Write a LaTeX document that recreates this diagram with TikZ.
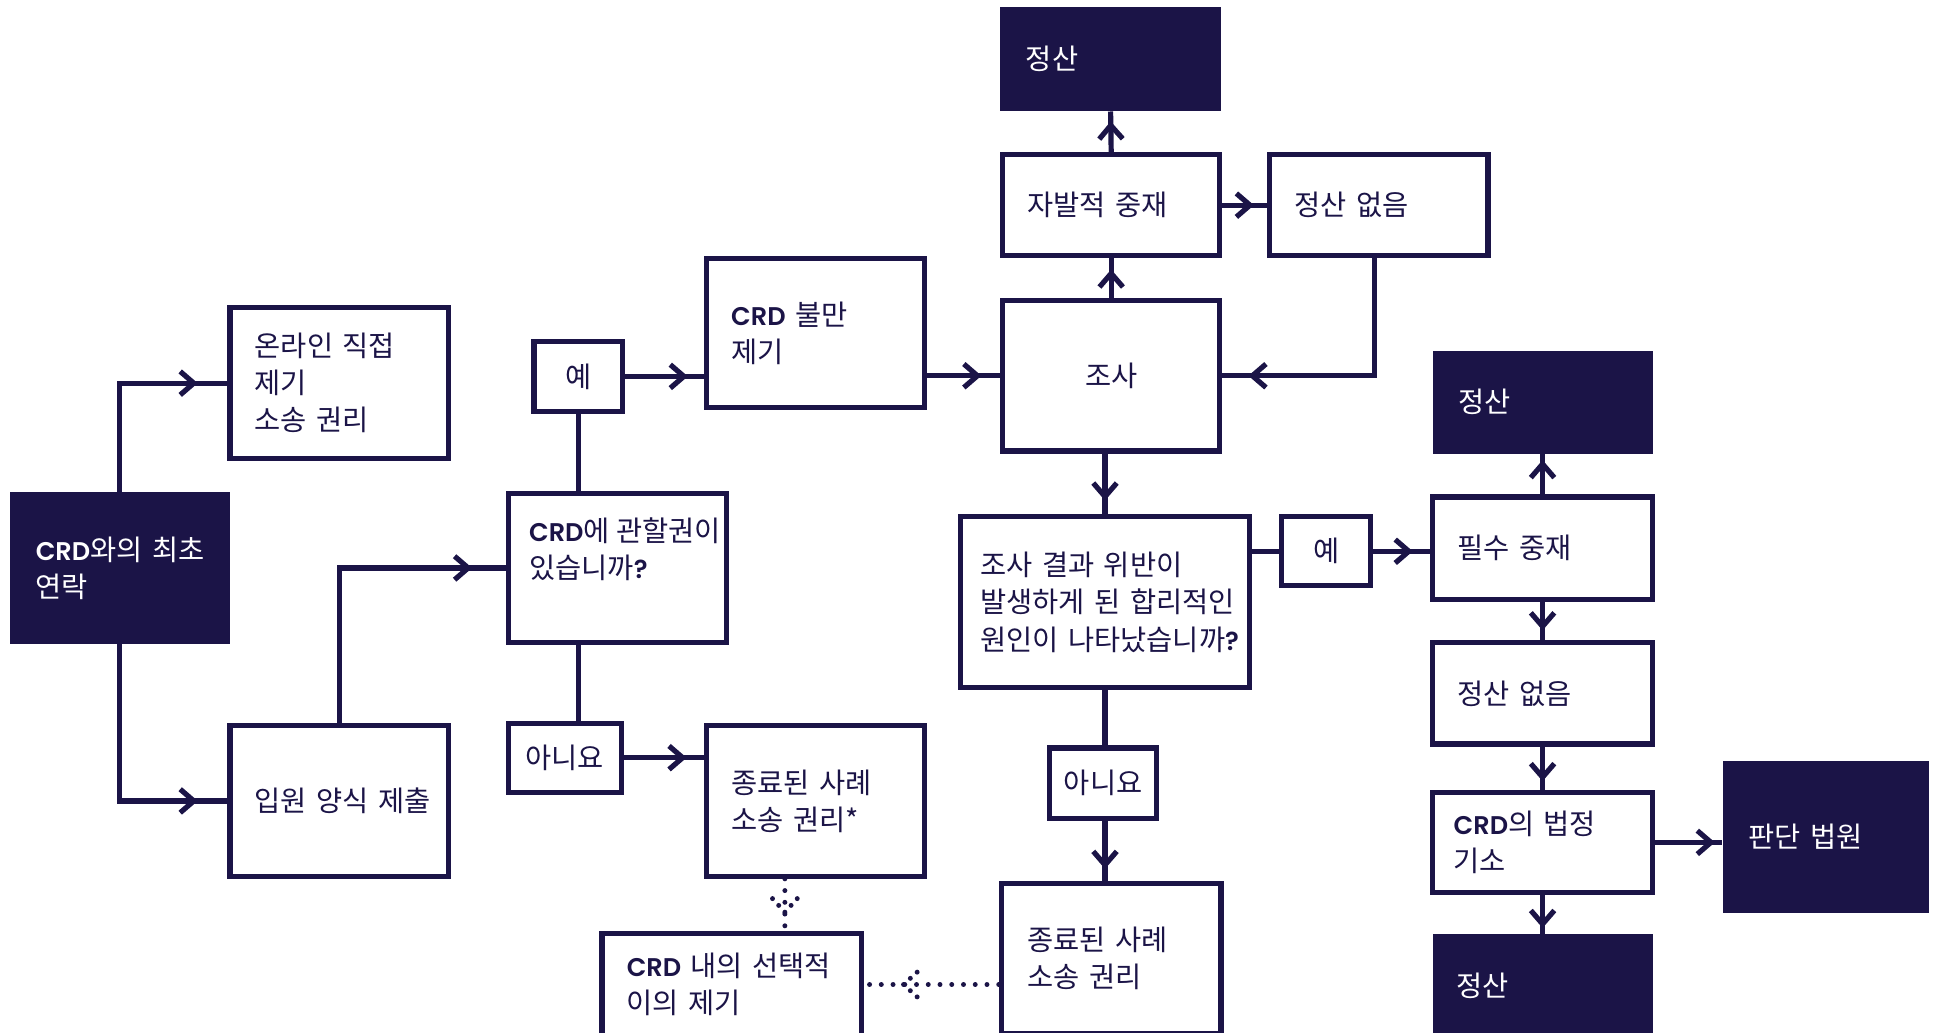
\documentclass[tikz,border=0pt]{standalone}
\usepackage{fontspec}
\setmainfont{Noto Sans CJK KR}
\newfontfamily\latfont{Poppins}[UprightFont={* SemiBold}, Scale=0.9]
\usetikzlibrary{arrows.meta,decorations.markings}
\definecolor{navy}{HTML}{1B1447}
\newcommand{\crd}{{\latfont CRD}}
\newcommand{\qm}{{\latfont ?}}
\begin{document}
\begin{tikzpicture}[x=1pt,y=-1pt,
  font=\fontsize{23pt}{30pt}\selectfont,
  box/.style={draw=navy, line width=4.2pt, text=navy, rectangle, inner xsep=20pt, inner ysep=0pt, align=left},
  cbox/.style={draw=navy, line width=4.2pt, text=navy, rectangle, inner sep=0pt, align=center},
  darkbox/.style={fill=navy, draw=none, text=white, rectangle, inner xsep=21pt, inner ysep=0pt, align=left},
  conn/.style={draw=navy, color=navy, line width=4.2pt},
  arr/.style={conn, postaction={decorate}, decoration={markings, mark=at position -#1 with {\arrow{Straight Barb[length=11pt,width=19pt]}}}},
  arr/.default=10pt,
  dotconn/.style={draw=navy, color=navy, line width=4pt, line cap=round, dash pattern=on 0pt off 9.5pt, postaction={decorate}, decoration={markings, mark=at position -#1 with {\fill[navy] (0,0) circle (2pt) (-5.5pt,5pt) circle (2pt) (-5.5pt,-5pt) circle (2pt) (-11pt,10pt) circle (2pt) (-11pt,-10pt) circle (2pt);}}},
]
\useasboundingbox (0,0) rectangle (1565.5,835.5);
\fill[white] (0,0) rectangle (1565.5,835.5);
\clip (0,0) rectangle (1565.5,835.5);

% boxes
\node[darkbox, minimum width=179pt, minimum height=84pt, text width=137pt] (S1) at (898.5,48) {정산};
\node[box, minimum width=175.8pt, minimum height=81.8pt, text width=135.8pt] (Vol) at (899,166) {\mbox{자발적 중재}};
\node[box, minimum width=176.8pt, minimum height=81.8pt, text width=136.8pt] (NS1) at (1115.5,166) {\mbox{정산 없음}};
\node[cbox, minimum width=175.8pt, minimum height=121.8pt] (Inv) at (899,304) {조사};
\node[box, minimum width=176.3pt, minimum height=120.8pt, text width=136.3pt] (Comp) at (659.75,269.5) {\mbox{\crd{} 불만}\\제기};
\node[cbox, minimum width=71.8pt, minimum height=56.8pt] (Yes1) at (468,304.5) {예};
\node[box, minimum width=176.8pt, minimum height=121.8pt, text width=136.8pt] (Online) at (274.5,310) {\mbox{온라인 직접}\\제기\\\mbox{소송 권리}};
\node[darkbox, minimum width=178pt, minimum height=123pt, text width=136pt] (Start) at (97,459.5) {\mbox{\crd{}와의 최초}\\연락};
\node[box, inner xsep=17pt, minimum width=176.8pt, minimum height=120.8pt] (Jur) at (499.5,459.5) {\parbox[c][80.8pt][t]{142.8pt}{\raggedright\mbox{\crd{}에 관할권이}\\있습니까\qm}};
\node[box, minimum width=176.8pt, minimum height=121.8pt, text width=136.8pt] (Intake) at (274.5,648) {\mbox{입원 양식 제출}};
\node[cbox, minimum width=91.8pt, minimum height=55.8pt] (No1) at (457,613) {아니요};
\node[box, minimum width=176.3pt, minimum height=121.8pt, text width=136.3pt] (Closed1) at (659.75,648) {\mbox{종료된 사례}\\\mbox{소송 권리*}};
\node[box, minimum width=209.8pt, minimum height=82.8pt, text width=169.8pt] (Appeal) at (592,796.5) {\mbox{\crd{} 내의 선택적}\\\mbox{이의 제기}};
\node[box, inner xsep=16pt, minimum width=233.8pt, minimum height=138.4pt, text width=201.8pt] (Cause) at (894,487.3) {\mbox{조사 결과 위반이}\\\mbox{발생하게 된 합리적인}\\\mbox{원인이 나타났습니까\qm}};
\node[cbox, minimum width=71.8pt, minimum height=55.8pt] (Yes2) at (1073,446) {예};
\node[darkbox, minimum width=178pt, minimum height=83pt, text width=136pt] (S2) at (1248,325.5) {정산};
\node[box, minimum width=177.8pt, minimum height=82.8pt, text width=137.8pt] (Med) at (1248,443.5) {\mbox{필수 중재}};
\node[box, minimum width=177.8pt, minimum height=81.8pt, text width=137.8pt] (NS2) at (1248,561) {\mbox{정산 없음}};
\node[box, inner xsep=17pt, minimum width=177.8pt, minimum height=80.8pt, text width=143.8pt] (Court) at (1248,681.5) {\mbox{\crd{}의 법정}\\기소};
\node[darkbox, minimum width=167.4pt, minimum height=122.9pt, text width=125.4pt] (Judge) at (1477.3,677) {\mbox{판단 법원}};
\node[darkbox, inner xsep=19pt, minimum width=178pt, minimum height=83pt, text width=140pt] (S3) at (1248,797.5) {정산};
\node[cbox, minimum width=86.8pt, minimum height=56.8pt] (No2) at (892.5,633.5) {아니요};
\node[box, inner xsep=21pt, minimum width=177.8pt, minimum height=120.8pt, text width=135.8pt] (Closed2) at (899,775.5) {\mbox{종료된 사례}\\\mbox{소송 권리}};

\coordinate (dx) at (635,0);

% connectors
\draw[arr=24pt] (Start.north) |- (Online.west);
\draw[arr=24pt] (Start.south) |- (Intake.west);
\draw[arr=27pt] (Intake.north) |- (Jur.west);
\draw[conn] (Yes1.south |- Jur.north) -- (Yes1.south);
\draw[arr=13pt] (Yes1.east) -- (Yes1.east -| Comp.west);
\draw[conn] (Yes1.south |- Jur.south) -- (Yes1.south |- No1.north);
\draw[arr=14pt] (No1.east) -- (No1.east -| Closed1.west);
\draw[arr=15pt] (Inv.west -| Comp.east) -- (Inv.west);
\draw[arr=9pt] (Inv.north) -- (Vol.south);
\draw[arr=8pt] (Vol.north) -- (S1.south);
\draw[arr=10.5pt] (Vol.east) -- (NS1.west);
\draw[arr=21pt] ([xshift=-3.5pt]NS1.south) |- (Inv.east);
\draw[arr=11pt] (Inv.south -| Cause.north) -- (Cause.north);
\draw[conn] (Cause.east |- Yes2.west) -- (Yes2.west);
\draw[arr=14pt] (Yes2.east) -- (Yes2.east -| Med.west);
\draw[arr=8pt] (Med.south) -- (NS2.north);
\draw[arr=5pt] (Med.north) -- (S2.south);
\draw[arr=7pt] (NS2.south) -- (Court.north);
\draw[arr=6pt] (Court.east) -- (Court.east -| Judge.west);
\draw[arr=5pt] (Court.south) -- (S3.north);
\draw[conn] (Cause.south) -- (Cause.south |- No2.north);
\draw[arr=10pt] (Cause.south |- No2.south) -- (Cause.south |- Closed2.north);
\draw[dotconn=15pt] (Closed1.south -| dx) -- (Appeal.north -| dx);
\draw[dotconn=32pt] (Closed2.west |- Appeal.east) -- (Appeal.east);
\end{tikzpicture}
\end{document}
